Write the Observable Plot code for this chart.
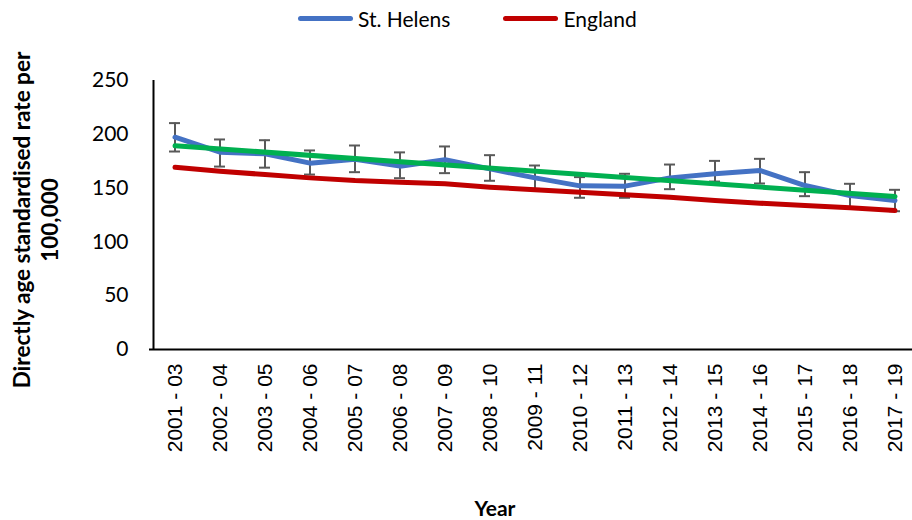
<!DOCTYPE html>
<html>
<head>
<meta charset="utf-8">
<script src="https://cdn.jsdelivr.net/npm/d3@7"></script>
<script src="https://cdn.jsdelivr.net/npm/@observablehq/plot@0.6"></script>
<style>
  html, body { margin: 0; padding: 0; background: #fff; }
  #wrap { position: relative; width: 912px; height: 520px; overflow: hidden; }
  #legend { position: absolute; top: 6px; left: 298px; display: flex; align-items: center;
            font-family: Lato, sans-serif; font-size: 21px; color: #000; }
  .sw { display: inline-block; width: 55px; height: 5px; border-radius: 3px; margin-right: 5px; }
  #xtitle { position: absolute; left: 0; width: 990px; top: 495px; text-align: center;
            font-family: Lato, sans-serif; font-weight: bold; font-size: 21px; }
  #ytitle { position: absolute; left: 36px; top: 220px; transform: translate(-50%, -50%) rotate(-90deg);
            white-space: nowrap; text-align: center; font-family: Lato, sans-serif; font-weight: bold;
            font-size: 22.5px; line-height: 28px; }
  g[aria-label="x-axis tick label"] text { font-family: "Liberation Sans", Arial, sans-serif; }
</style>
</head>
<body>
<div id="wrap">
  <div id="chart"></div>
  <div id="legend">
    <span class="sw" style="background:#4472C4"></span><span>St. Helens</span>
    <span class="sw" style="background:#C00000;margin-left:53px"></span><span>England</span>
  </div>
  <div id="ytitle">Directly age standardised rate per<br>100,000</div>
  <div id="xtitle">Year</div>
</div>
<script>
const periods = ["2001 - 03","2002 - 04","2003 - 05","2004 - 06","2005 - 07","2006 - 08","2007 - 09","2008 - 10","2009 - 11","2010 - 12","2011 - 13","2012 - 14","2013 - 15","2014 - 16","2015 - 17","2016 - 18","2017 - 19"];
const stHelens = [197.3,183.4,181.9,173.2,176.9,170.4,176.3,167.9,159.5,152.1,151.8,159.5,163.3,166.4,152.4,143.1,138.5];
const stHelensLow = [184,170,169,162.6,164.8,159.2,163.9,156.8,149.3,141,141,149,156.1,154.3,142.5,132,128.5];
const stHelensHigh = [210.4,195.2,194.5,185,189.6,183.2,188.7,180.6,171,160.2,163.3,171.9,175.3,177.2,164.8,154,148.4];
const england = [169.4,165.7,162.6,159.5,157,155.5,154,150.9,148.4,146.2,143.8,141.6,138.5,136,133.8,131.7,129.2];
const trendPeriods = ["2001 - 03","2017 - 19"];
const trendValues = [189.3,142.2];
const yTicks = [0,50,100,150,200,250];

const rows = periods.map((p,i) => ({period: p, sh: stHelens[i], lo: stHelensLow[i], hi: stHelensHigh[i], eng: england[i]}));
const trend = trendPeriods.map((p,i) => ({period: p, v: trendValues[i]}));

const chart = Plot.plot({
  width: 912,
  height: 520,
  marginLeft: 149,
  marginTop: 80,
  marginBottom: 171,
  marginRight: 0,
  style: {fontFamily: "Lato, sans-serif", fontSize: "20px", color: "#000", background: "#fff"},
  x: {type: "band", domain: periods, range: [147.5, 921], padding: 0},
  y: {domain: [0, 250], range: [349, 80]},
  marks: [
    Plot.axisY({ticks: yTicks, tickSize: 0, tickPadding: 21, fontSize: 21, label: null}),
    Plot.axisX({tickSize: 0, tickPadding: 14, tickRotate: -90, fontSize: 21, label: null}),
    Plot.ruleX(rows, {x: "period", y1: "lo", y2: "hi", stroke: "#595959", strokeWidth: 2}),
    Plot.tickY(rows, {x: "period", y: "lo", stroke: "#595959", strokeWidth: 2, insetLeft: 17, insetRight: 17}),
    Plot.tickY(rows, {x: "period", y: "hi", stroke: "#595959", strokeWidth: 2, insetLeft: 17, insetRight: 17}),
    Plot.line(rows, {x: "period", y: "sh", stroke: "#4472C4", strokeWidth: 5, strokeLinecap: "round", strokeLinejoin: "round"}),
    Plot.line(rows, {x: "period", y: "eng", stroke: "#C00000", strokeWidth: 5, strokeLinecap: "round", strokeLinejoin: "round"}),
    Plot.line(trend, {x: "period", y: "v", stroke: "#00B050", strokeWidth: 5, strokeLinecap: "round"}),
    Plot.ruleY([0], {stroke: "#000", strokeWidth: 2}),
    Plot.ruleX([periods[0]], {y1: 0, y2: 250, stroke: "#000", strokeWidth: 2, dx: -21.5})
  ]
});
document.getElementById("chart").appendChild(chart);
</script>
</body>
</html>
